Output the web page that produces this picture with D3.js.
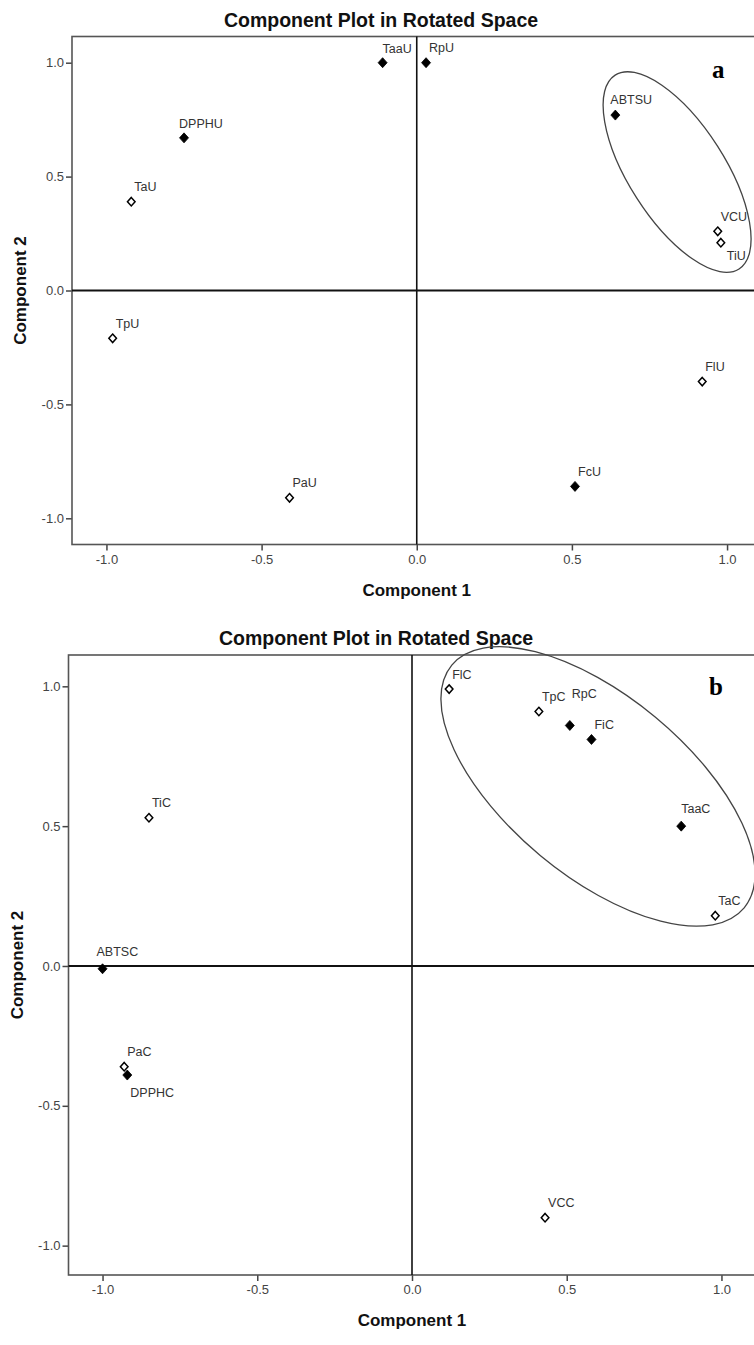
<!DOCTYPE html>
<html>
<head>
<meta charset="utf-8">
<script src="https://cdnjs.cloudflare.com/ajax/libs/d3/7.8.5/d3.min.js"></script>
<style>
  body { margin: 0; background: #fff; }
  svg { display: block; }
</style>
</head>
<body>
<div id="canvas"></div>
<script>
"use strict"

/* Panel a: uncoated loadings */
let namesA = ["TaaU", "RpU", "DPPHU", "TaU", "ABTSU", "VCU", "TiU", "TpU", "FlU", "FcU", "PaU"];
let comp1A = [-0.11, 0.03, -0.75, -0.92, 0.64, 0.97, 0.98, -0.98, 0.92, 0.51, -0.41];
let comp2A = [1.00, 1.00, 0.67, 0.39, 0.77, 0.26, 0.21, -0.21, -0.40, -0.86, -0.91];
let filledA = [true, true, true, false, true, false, false, false, false, true, false];

/* Panel b: coated loadings */
let namesB = ["FlC", "TpC", "RpC", "FiC", "TaaC", "TaC", "TiC", "ABTSC", "PaC", "DPPHC", "VCC"];
let comp1B = [0.12, 0.41, 0.51, 0.58, 0.87, 0.98, -0.85, -1.00, -0.93, -0.92, 0.43];
let comp2B = [0.99, 0.91, 0.86, 0.81, 0.50, 0.18, 0.53, -0.01, -0.36, -0.39, -0.90];
let filledB = [false, false, true, true, true, false, false, true, false, true, false];

let tickValues = [-1.0, -0.5, 0.0, 0.5, 1.0];

/* Drawing dimensions */
let svgWidth = 754;
let svgHeight = 1345;

let svg = d3.select("#canvas")
    .append("svg")
    .attr("width", svgWidth)
    .attr("height", svgHeight);

let sans = "'Liberation Sans', Arial, sans-serif";

// label nudges (px) that differ from the default above-right spot
let labelNudge = {
    TaaU: [0, -10], DPPHU: [-5, -10], ABTSU: [-5, -11], TiU: [6, 17],
    RpC: [2, -27], ABTSC: [-6, -13], DPPHC: [3, 22], TaaC: [0, -13]
};

// diamond marker, a little taller than wide
let diamond = {
    draw: function (ctx, size) {
        let h = Math.sqrt(size) / 2;
        let w = h * 0.9;
        ctx.moveTo(0, -h);
        ctx.lineTo(w, 0);
        ctx.lineTo(0, h);
        ctx.lineTo(-w, 0);
        ctx.closePath();
    }
};

function drawPanel(cfg) {
    let g = svg.append("g");

    let xScale = d3.scaleLinear()
        .domain(cfg.xDomain)
        .range([cfg.left, cfg.right]);
    let yScale = d3.scaleLinear()
        .domain(cfg.yDomain)
        .range([cfg.bottom, cfg.top]);

    // title
    g.append("text")
        .attr("x", cfg.titleX)
        .attr("y", cfg.top - 10)
        .attr("text-anchor", "middle")
        .style("font-family", sans)
        .style("font-weight", "bold")
        .style("font-size", "19.5px")
        .attr("fill", "#111")
        .text("Component Plot in Rotated Space");

    // axes
    let xAxis = g.append("g")
        .attr("transform", "translate(0," + cfg.bottom + ")")
        .call(d3.axisBottom(xScale).tickValues(tickValues).tickSize(6).tickPadding(4)
            .tickFormat(function (d) { return d.toFixed(1); }));
    let yAxis = g.append("g")
        .attr("transform", "translate(" + cfg.left + ",0)")
        .call(d3.axisLeft(yScale).tickValues(tickValues).tickSize(6).tickPadding(2)
            .tickFormat(function (d) { return d.toFixed(1); }));
    [xAxis, yAxis].forEach(function (ax) {
        ax.select(".domain").remove();
        ax.selectAll(".tick line").attr("stroke", "#444").attr("stroke-width", 1.5);
        ax.selectAll(".tick text")
            .attr("fill", "#444")
            .style("font-family", sans)
            .style("font-size", "13px");
    });

    // frame
    g.append("rect")
        .attr("x", cfg.left)
        .attr("y", cfg.top)
        .attr("width", cfg.right - cfg.left)
        .attr("height", cfg.bottom - cfg.top)
        .attr("fill", "none")
        .attr("stroke", "#555")
        .attr("stroke-width", 1.6);

    // zero reference lines
    g.append("line")
        .attr("x1", xScale(0)).attr("x2", xScale(0))
        .attr("y1", cfg.top).attr("y2", cfg.bottom)
        .attr("stroke", "#111").attr("stroke-width", 1.6);
    g.append("line")
        .attr("x1", cfg.left).attr("x2", cfg.right)
        .attr("y1", yScale(0)).attr("y2", yScale(0))
        .attr("stroke", "#111").attr("stroke-width", 1.8);

    // axis titles
    g.append("text")
        .attr("x", xScale(0))
        .attr("y", cfg.bottom + 51)
        .attr("text-anchor", "middle")
        .style("font-family", sans)
        .style("font-weight", "bold")
        .style("font-size", "17px")
        .attr("fill", "#111")
        .text("Component 1");
    g.append("text")
        .attr("transform", "translate(" + cfg.yTitleX + "," + ((cfg.top + cfg.bottom) / 2) + ") rotate(-90)")
        .attr("text-anchor", "middle")
        .style("font-family", sans)
        .style("font-weight", "bold")
        .style("font-size", "17px")
        .attr("fill", "#111")
        .text("Component 2");

    // cluster ellipse
    let e = cfg.ellipse;
    g.append("ellipse")
        .attr("transform", "translate(" + xScale(e.cx) + "," + yScale(e.cy) + ") rotate(" + e.angle + ")")
        .attr("rx", e.rx)
        .attr("ry", e.ry)
        .attr("fill", "none")
        .attr("stroke", "#444")
        .attr("stroke-width", 1.3);

    // points
    let points = cfg.names.map(function (n, i) {
        return { name: n, c1: cfg.c1[i], c2: cfg.c2[i], filled: cfg.filled[i] };
    });

    g.selectAll("path.pt")
        .data(points)
        .join("path")
        .attr("class", "pt")
        .attr("transform", function (d) {
            return "translate(" + xScale(d.c1) + "," + yScale(d.c2) + ")";
        })
        .attr("d", function (d) {
            return d3.symbol().type(diamond).size(d.filled ? 100 : 72)();
        })
        .attr("fill", function (d) { return d.filled ? "#000" : "#fff"; })
        .attr("stroke", "#000")
        .attr("stroke-width", function (d) { return d.filled ? 0.8 : 1.5; });

    g.selectAll("text.lbl")
        .data(points)
        .join("text")
        .attr("class", "lbl")
        .attr("x", function (d) {
            let n = labelNudge[d.name] || [3, -10.5];
            return xScale(d.c1) + n[0];
        })
        .attr("y", function (d) {
            let n = labelNudge[d.name] || [3, -10.5];
            return yScale(d.c2) + n[1];
        })
        .style("font-family", sans)
        .style("font-size", "12.5px")
        .attr("fill", "#333")
        .text(function (d) { return d.name; });

    // panel letter
    g.append("text")
        .attr("x", cfg.letterX)
        .attr("y", cfg.letterY)
        .style("font-family", "'Liberation Serif', 'Times New Roman', serif")
        .style("font-weight", "bold")
        .style("font-size", "25px")
        .attr("fill", "#000")
        .text(cfg.letter);
}

drawPanel({
    names: namesA, c1: comp1A, c2: comp2A, filled: filledA,
    left: 72, right: 761.5, top: 36.5, bottom: 544.5,
    xDomain: [-1.111, 1.111], yDomain: [-1.115, 1.115],
    titleX: 381, yTitleX: 26,
    ellipse: { cx: 0.839, cy: 0.52, rx: 115, ry: 48, angle: 57.4 },
    letter: "a", letterX: 712, letterY: 78
});

drawPanel({
    names: namesB, c1: comp1B, c2: comp2B, filled: filledB,
    left: 68.5, right: 755.5, top: 655, bottom: 1275,
    xDomain: [-1.11, 1.11], yDomain: [-1.105, 1.112],
    titleX: 376, yTitleX: 23,
    ellipse: { cx: 0.601, cy: 0.642, rx: 190, ry: 90, angle: 39.7 },
    letter: "b", letterX: 709, letterY: 695
});
</script>
</body>
</html>
